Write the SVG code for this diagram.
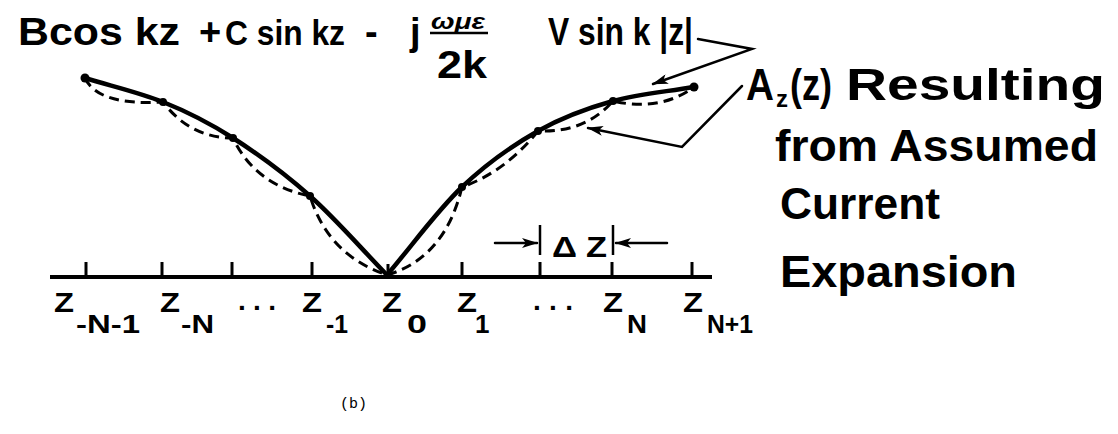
<svg xmlns="http://www.w3.org/2000/svg" width="1118" height="434" viewBox="0 0 1118 434">
<defs>
<marker id="ah" markerUnits="userSpaceOnUse" markerWidth="16" markerHeight="10" refX="15" refY="5" orient="auto">
<path d="M0,0 L16,5 L0,10 L4,5 z" fill="#000"/>
</marker>
</defs>
<style>
.t{font-family:"Liberation Sans",Arial,sans-serif;font-weight:bold;fill:#000}
.big{font-size:44px}
.ttl{font-size:38px}
.zl{font-size:28px}
.zs{font-size:26px}
.solid{fill:none;stroke:#000;stroke-width:4.5;stroke-linecap:round}
.dash{fill:none;stroke:#000;stroke-width:3;stroke-dasharray:10 6}
.ln{fill:none;stroke:#000;stroke-width:2.5;stroke-linecap:round}
.tick{stroke:#000;stroke-width:3}
</style>
<rect width="1118" height="434" fill="#fff"/>

<g id="title">
<text class="t ttl" x="18" y="45" textLength="162" lengthAdjust="spacingAndGlyphs">Bcos kz</text>
<text class="t ttl" x="199" y="45">+</text>
<text class="t" x="225" y="45" font-size="35" textLength="120" lengthAdjust="spacingAndGlyphs">C sin kz</text>
<text class="t ttl" x="365" y="45">-</text>
<text class="t ttl" x="410" y="45">j</text>
<text class="t" x="431" y="29" font-size="22" font-style="italic" textLength="54" lengthAdjust="spacingAndGlyphs">ωμε</text>
<line x1="430" y1="33" x2="488" y2="33" stroke="#000" stroke-width="2.5"/>
<text class="t ttl" x="437" y="78" textLength="50" lengthAdjust="spacingAndGlyphs">2k</text>
<text class="t ttl" x="548" y="45" textLength="145" lengthAdjust="spacingAndGlyphs">V sin k |z|</text>
</g>

<g id="label">
<text class="t big" x="746" y="100" textLength="28" lengthAdjust="spacingAndGlyphs">A</text>
<text class="t" x="776" y="107" font-size="24">z</text>
<text class="t big" x="790" y="100" textLength="42" lengthAdjust="spacingAndGlyphs">(z)</text>
<text class="t big" x="846" y="100" textLength="259" lengthAdjust="spacingAndGlyphs">Resulting</text>
<text class="t big" x="775" y="161" textLength="323" lengthAdjust="spacingAndGlyphs">from Assumed</text>
<text class="t big" x="780" y="219" textLength="160" lengthAdjust="spacingAndGlyphs">Current</text>
<text class="t big" x="780" y="287" textLength="237" lengthAdjust="spacingAndGlyphs">Expansion</text>
</g>

<g id="axis">
<line x1="50" y1="277" x2="712" y2="277" stroke="#000" stroke-width="4"/>
<line class="tick" x1="86" y1="262" x2="86" y2="277"/>
<line class="tick" x1="162" y1="262" x2="162" y2="277"/>
<line class="tick" x1="232" y1="262" x2="232" y2="277"/>
<line class="tick" x1="312" y1="262" x2="312" y2="277"/>
<line class="tick" x1="388" y1="264" x2="388" y2="277"/>
<line class="tick" x1="462" y1="262" x2="462" y2="277"/>
<line class="tick" x1="540" y1="262" x2="540" y2="277"/>
<line class="tick" x1="612" y1="262" x2="612" y2="277"/>
<line class="tick" x1="692" y1="262" x2="692" y2="277"/>
</g>

<g id="axis-labels">
<text class="t zl" x="54" y="312" textLength="20" lengthAdjust="spacingAndGlyphs">Z</text><text class="t zs" x="76" y="333" textLength="64" lengthAdjust="spacingAndGlyphs">-N-1</text>
<text class="t zl" x="160" y="312" textLength="20" lengthAdjust="spacingAndGlyphs">Z</text><text class="t zs" x="181" y="333" textLength="33" lengthAdjust="spacingAndGlyphs">-N</text>
<text class="t zl" x="238" y="310" textLength="38" lengthAdjust="spacing">...</text>
<text class="t zl" x="302" y="312" textLength="20" lengthAdjust="spacingAndGlyphs">Z</text><text class="t zs" x="326" y="333" textLength="22" lengthAdjust="spacingAndGlyphs">-1</text>
<text class="t zl" x="382" y="312" textLength="20" lengthAdjust="spacingAndGlyphs">Z</text><text class="t zs" x="407" y="333" textLength="20" lengthAdjust="spacingAndGlyphs">0</text>
<text class="t zl" x="457" y="312" textLength="20" lengthAdjust="spacingAndGlyphs">Z</text><text class="t zs" x="475" y="333">1</text>
<text class="t zl" x="533" y="310" textLength="40" lengthAdjust="spacing">...</text>
<text class="t zl" x="603" y="312" textLength="20" lengthAdjust="spacingAndGlyphs">Z</text><text class="t zs" x="627" y="333" textLength="20" lengthAdjust="spacingAndGlyphs">N</text>
<text class="t zl" x="683" y="312" textLength="20" lengthAdjust="spacingAndGlyphs">Z</text><text class="t zs" x="707" y="333" textLength="46" lengthAdjust="spacingAndGlyphs">N+1</text>
</g>

<g id="delta-z">
<line x1="540" y1="225" x2="540" y2="255" stroke="#000" stroke-width="2.5"/>
<line x1="613" y1="225" x2="613" y2="255" stroke="#000" stroke-width="2.5"/>
<text class="t" x="552" y="257" font-size="30" textLength="25" lengthAdjust="spacingAndGlyphs">Δ</text>
<text class="t" x="586" y="257" font-size="30" textLength="21" lengthAdjust="spacingAndGlyphs">Z</text>
</g>

<g id="curves">
<path class="solid" d="M85,78 C111,86 138,92 163,102 C188,112 208.5,122.3 233,138 C257.5,153.7 284.3,173.2 310,196 C335.7,218.8 361.3,248.7 387,275"/>
<path class="solid" d="M387,275 C412,245.7 436.8,211 462,187 C487.2,163 512.8,145.3 538,131 C563.2,116.7 587,108.3 613,101 C639,93.7 667,91.7 694,87"/>
<path class="dash" d="M85,78 Q98,106 163,102 Q190,138 233,138 Q255,185 310,196 Q328,255 387,275"/>
<path class="dash" d="M387,275 Q445,258 462,187 Q505,172 538,131 Q585,133 613,101 Q660,112 694,87"/>
<g fill="#000">
<circle cx="85" cy="78" r="4.5"/><circle cx="163" cy="102" r="4"/><circle cx="233" cy="138" r="4"/><circle cx="310" cy="196" r="4"/>
<circle cx="462" cy="187" r="4"/><circle cx="538" cy="131" r="4"/><circle cx="613" cy="101" r="4"/><circle cx="694" cy="87" r="4.5"/>
</g>
</g>

<g id="connectors">
<path class="ln" d="M698,39 L752,49 L653,84" marker-end="url(#ah)"/>
<path class="ln" d="M742,86 L682,147 L588,128" marker-end="url(#ah)"/>
<line class="ln" x1="495" y1="243" x2="537" y2="243" marker-end="url(#ah)"/>
<line class="ln" x1="667" y1="243" x2="616" y2="243" marker-end="url(#ah)"/>
</g>

<text x="340" y="408" font-family="Liberation Mono, monospace" font-size="15" fill="#000">(b)</text>
</svg>
